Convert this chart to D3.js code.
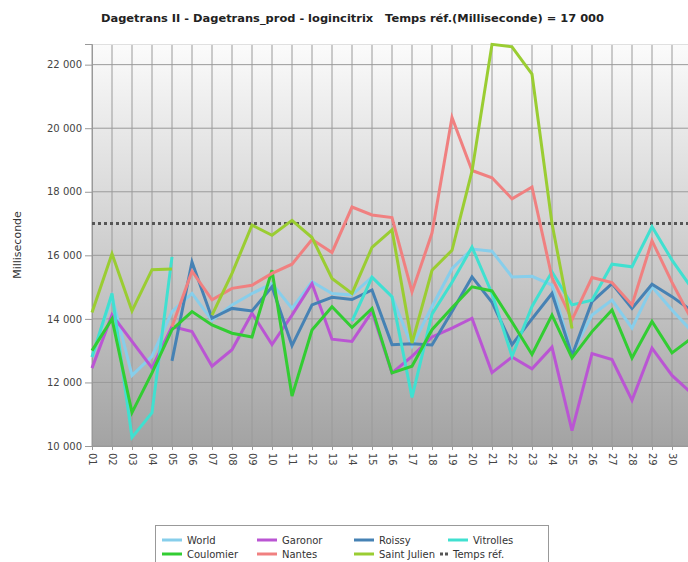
<!DOCTYPE html>
<html><head><meta charset="utf-8">
<script src="https://cdn.jsdelivr.net/npm/d3@7"></script>
<style>
html,body{margin:0;padding:0;background:#fff;overflow:hidden;}
svg{display:block;font-family:"DejaVu Sans",Verdana,sans-serif;}
</style></head>
<body>
<svg id="chart" width="688" height="562"></svg>
<script>
const days = ["01","02","03","04","05","06","07","08","09","10","11","12","13","14","15","16","17","18","19","20","21","22","23","24","25","26","27","28","29","30","31"];
const yTicks = [10000,12000,14000,16000,18000,20000,22000];
const refValue = 17000;
const seriesNames = ["World","Garonor","Roissy","Vitrolles","Coulomier","Nantes","Saint Julien"];
const seriesColors = ["#87CEEB","#BA55D3","#4682B4","#40E0D0","#32CD32","#F08080","#9ACD32"];
const world = [12800,14700,12220,12820,14230,14800,13950,14440,14800,15110,14330,15170,14800,14750,15320,14700,13140,14390,15580,16200,16130,15320,15340,15060,12900,14120,14590,13710,15010,14280,13600];
const garonor = [12450,14130,13290,12460,13760,13600,12510,13030,14180,13190,14120,15110,13360,13290,14230,12300,12820,13430,13710,14020,12310,12800,12430,13110,10480,12910,12720,11440,13080,12220,11650];
const roissy = [null,null,null,null,12680,15790,14020,14330,14250,15010,13160,14440,14680,14610,14910,13190,13220,13180,14230,15320,14520,13190,14000,14800,12850,14540,15110,14330,15090,14700,14250];
const vitrolles = [12800,14800,10270,11050,15950,null,null,null,null,null,null,null,null,13930,15310,14700,11530,14150,15150,16260,14800,12820,14390,15480,14440,14590,15720,15640,16900,15850,14950];
const coulomier = [13000,14000,11050,12300,13660,14230,13810,13550,13430,15530,11570,13650,14380,13730,14330,12300,12510,13660,14350,15010,14880,13900,12880,14120,12770,13600,14280,12770,13920,12930,13400];
const nantes = [null,null,null,null,13750,15500,14600,14960,15060,15430,15720,16500,16090,17520,17270,17190,14850,16700,20340,18670,18440,17780,18150,15300,13970,15300,15140,14440,16460,15150,13950];
const saintJulien = [14200,16050,14250,15550,15570,null,14120,15430,16950,16630,17100,16560,15270,14800,16250,16800,13240,15530,16160,18650,22640,22560,21700,17000,13700,null,null,null,null,null,null];
const seriesValues = [world,garonor,roissy,vitrolles,coulomier,nantes,saintJulien];

const svg = d3.select("#chart");
const plotLeft = 92, plotTop = 44, plotBottom = 446, plotEnd = 692;
const x = d3.scalePoint().domain(days).range([plotLeft, plotEnd]);
const y = d3.scaleLinear().domain([10000, 22650]).range([plotBottom, plotTop]);
const loc = d3.formatLocale({decimal:",", thousands:" ", grouping:[3], currency:["",""]});
const fmt = loc.format(",d");

const defs = svg.append("defs");
const grad = defs.append("linearGradient").attr("id","bg").attr("x1",0).attr("y1",0).attr("x2",0).attr("y2",1);
grad.append("stop").attr("offset","0%").attr("stop-color","#fbfbfb");
grad.append("stop").attr("offset","100%").attr("stop-color","#a3a3a3");
svg.append("rect").attr("x",plotLeft).attr("y",plotTop).attr("width",700-plotLeft).attr("height",plotBottom-plotTop).attr("fill","url(#bg)");

const g = svg.append("g");
g.selectAll("line.v").data(days).enter().append("line").attr("class","v")
  .attr("x1",d=>x(d)).attr("x2",d=>x(d)).attr("y1",plotTop).attr("y2",plotBottom)
  .attr("stroke","#9a9a9a").attr("stroke-width",1);
g.selectAll("line.h").data(yTicks).enter().append("line").attr("class","h")
  .attr("x1",plotLeft).attr("x2",700).attr("y1",d=>y(d)).attr("y2",d=>y(d))
  .attr("stroke","#9a9a9a").attr("stroke-width",1);
svg.append("line").attr("x1",plotLeft).attr("x2",700).attr("y1",plotTop+0.5).attr("y2",plotTop+0.5).attr("stroke","#e0e0e0");

const yAxis = d3.axisLeft(y).tickValues(yTicks).tickFormat(fmt).tickSize(7).tickPadding(3);
const ya = svg.append("g").attr("transform",`translate(${plotLeft},0)`).call(yAxis);
ya.select(".domain").attr("stroke","#999");
ya.selectAll(".tick line").attr("stroke","#999");
ya.selectAll("text").attr("fill","#444").attr("font-size","10px").style("font-family","'DejaVu Sans',sans-serif");

const xAxis = d3.axisBottom(x).tickSize(4).tickPadding(3);
const xa = svg.append("g").attr("transform",`translate(0,${plotBottom})`).call(xAxis);
xa.select(".domain").attr("stroke","#999");
xa.selectAll(".tick line").attr("stroke","#999");
xa.selectAll("text").attr("fill","#444").attr("font-size","10px").style("font-family","'DejaVu Sans',sans-serif")
  .attr("transform","rotate(90)").attr("text-anchor","start").attr("x",7).attr("y",0).attr("dy","0.35em");

svg.append("line").attr("x1",plotLeft).attr("x2",700).attr("y1",y(refValue)).attr("y2",y(refValue))
  .attr("stroke","#555").attr("stroke-width",3).attr("stroke-dasharray","3,3");

const line = d3.line().defined(d=>d!=null).x((d,i)=>x(days[i])).y(d=>y(d));
seriesValues.forEach((vals,k)=>{
  svg.append("path").datum(vals).attr("d",line).attr("fill","none")
    .attr("stroke",seriesColors[k]).attr("stroke-width",3).attr("stroke-linejoin","miter");
});

svg.append("text").attr("x",101).attr("y",22).attr("font-size","11px").attr("font-weight","bold").attr("fill","#222")
  .attr("textLength",503).attr("lengthAdjust","spacingAndGlyphs").attr("xml:space","preserve")
  .text("Dagetrans II - Dagetrans_prod - logincitrix   Temps réf.(Milliseconde) = 17 000");

svg.append("text").attr("transform","translate(21,245) rotate(-90)").attr("text-anchor","middle")
  .attr("font-size","11px").attr("fill","#333").text("Milliseconde");

svg.append("rect").attr("x",155.5).attr("y",525.5).attr("width",393).attr("height",60).attr("fill","#fff").attr("stroke","#999");
const legendItems = seriesNames.map((n,i)=>({name:n,color:seriesColors[i],dotted:false})).concat([{name:"Temps réf.",color:"#555",dotted:true}]);
const legendPos = [[162,540],[257,540],[354,540],[448,540],[162,554],[257,554],[354,554],[440,554]];
const swatchW = [20,20,20,20,20,20,20,8];
legendItems.forEach((it,j)=>{
  const [lx,ly] = legendPos[j];
  const lg = svg.append("g");
  lg.append("line").attr("x1",lx).attr("x2",lx+swatchW[j]).attr("y1",ly).attr("y2",ly)
    .attr("stroke",it.color).attr("stroke-width",3).attr("stroke-dasharray",it.dotted?"3,2":null);
  lg.append("text").attr("x",lx+swatchW[j]+5).attr("y",ly).attr("dy","0.35em").attr("font-size","10px").attr("fill","#333").text(it.name);
});
</script>
</body></html>
